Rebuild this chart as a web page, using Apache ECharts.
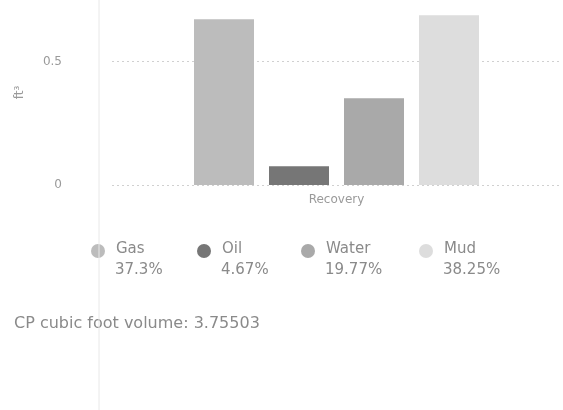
<!DOCTYPE html>
<html>
<head>
<meta charset="utf-8">
<script src="https://cdn.jsdelivr.net/npm/echarts@6/dist/echarts.min.js"></script>
<style>
html,body{margin:0;padding:0;background:#fff;}
#c{width:563px;height:410px;}
</style>
</head>
<body>
<div id="c"></div>
<script>
const categories = ['Recovery'];
const seriesNames = ['Gas', 'Oil', 'Water', 'Mud'];
const barValues = [0.672, 0.076, 0.352, 0.688];
const percentLabels = ['37.3%', '4.67%', '19.77%', '38.25%'];
const yTicks = { min: 0, max: 0.75, interval: 0.5 };
const footerText = 'CP cubic foot volume: 3.75503';
const colors = ['#bcbcbc', '#767676', '#a9a9a9', '#dddddd'];

const chart = echarts.init(document.getElementById('c'));
const font = '"DejaVu Sans", "Noto Sans", sans-serif';
const legendX = [98, 204, 308, 426];

const graphics = [];
seriesNames.forEach((n, i) => {
  graphics.push({ type: 'circle', shape: { cx: legendX[i], cy: 251, r: 7 }, style: { fill: colors[i] } });
  graphics.push({ type: 'text', left: legendX[i] + 18, top: 242, style: { text: n, fill: '#8a8a8a', font: '15px ' + font } });
  graphics.push({ type: 'text', left: legendX[i] + 17, top: 263, style: { text: percentLabels[i], fill: '#8a8a8a', font: '15px ' + font } });
});
graphics.push({ type: 'text', left: 14, top: 316, style: { text: footerText, fill: '#8a8a8a', font: '16px ' + font } });
graphics.push({ type: 'line', shape: { x1: 99, y1: 0, x2: 99, y2: 410 }, style: { stroke: '#e8e8e8', lineWidth: 1 } });

chart.setOption({
  animation: false,
  grid: { left: 112, right: 2, top: 0, bottom: 225 },
  xAxis: {
    type: 'category',
    data: categories,
    axisLine: { show: false },
    axisTick: { show: false },
    axisLabel: { color: '#9a9a9a', fontSize: 12, fontFamily: font, margin: 9 }
  },
  yAxis: {
    type: 'value',
    min: yTicks.min, max: yTicks.max, interval: yTicks.interval,
    name: 'ft³',
    nameLocation: 'middle',
    nameRotate: 90,
    nameGap: 86,
    nameTextStyle: { color: '#9a9a9a', fontSize: 12, fontFamily: font },
    axisLine: { show: false },
    axisTick: { show: false },
    axisLabel: { color: '#9a9a9a', fontSize: 12, fontFamily: font, margin: 50, showMaxLabel: false },
    splitLine: { lineStyle: { color: ['#d0d0d0', '#d0d0d0', 'rgba(0,0,0,0)'], type: [2, 3] } }
  },
  series: seriesNames.map((n, i) => ({
    name: n,
    type: 'bar',
    data: [barValues[i]],
    barWidth: 60,
    barGap: '25%',
    itemStyle: { color: colors[i] }
  })),
  graphic: graphics
});
</script>
</body>
</html>
